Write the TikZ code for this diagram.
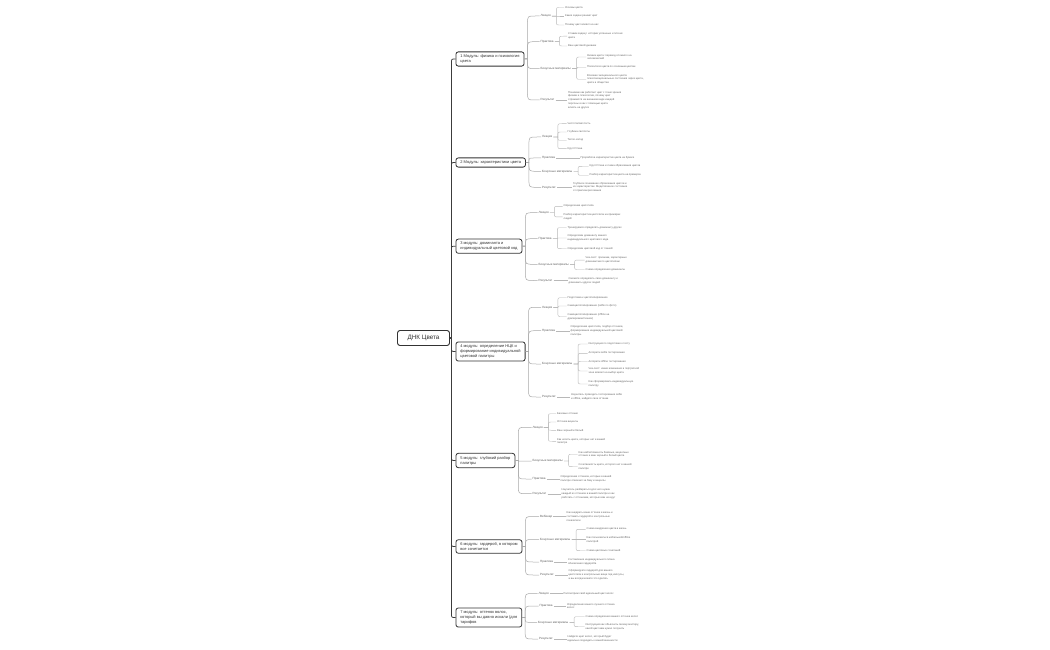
\documentclass[tikz,border=0pt]{standalone}
\usepackage{fontspec}
\setmainfont{Liberation Sans}
\usetikzlibrary{calc}
\definecolor{dark}{HTML}{333333}
\definecolor{catgray}{HTML}{5E5E5E}
\definecolor{leafgray}{HTML}{666666}
\definecolor{lineA}{HTML}{3C3C3C}
\definecolor{lineB}{HTML}{A8A8A8}
\definecolor{lineC}{HTML}{B8B8B8}
\tikzset{
  rootbox/.style={draw=dark, line width=0.9pt, rounded corners=2.5pt, font=\fontsize{6.3}{7.5}\selectfont, text=dark, minimum width=52pt, minimum height=15pt, inner sep=2pt},
  modbox/.style={draw=dark, line width=0.8pt, rounded corners=2.5pt, font=\fontsize{4}{5}\selectfont, text=dark, align=left, inner xsep=4.5pt, inner ysep=2.8pt, anchor=west},
  cat/.style={font=\fontsize{3}{3.6}\selectfont, text=catgray, inner sep=1pt, anchor=west},
  leaf/.style={font=\fontsize{2.65}{3.8}\selectfont, text=leafgray, align=left, inner sep=1pt, anchor=west},
  l1/.style={draw=lineA, line width=0.75pt},
  l2/.style={draw=lineB, line width=0.5pt},
  l3/.style={draw=lineC, line width=0.4pt},
  br/.style n args={2}{to path={let \p1=(\tikztostart), \p2=(\tikztotarget),
     \n1={((\y2)-(\y1))/max(abs((\y2)-(\y1)),0.001)},
     \n2={min(#2,abs((\y2)-(\y1)))} in
     -- (\x1+#1,\y1) -- (\x1+#1,{\y2-(\n1)*(\n2)*1pt}) .. controls (\x1+#1,\y2) .. ({\x1+#1+\n2*1pt},\y2) -- (\tikztotarget)}}
}
\begin{document}
\begin{tikzpicture}[x=1pt,y=-1pt]
\fill[white] (0,0) rectangle (1050,650);
\useasboundingbox (0,0) rectangle (1050,650);

\node[rootbox] (root) at (423.5,338) {ДНК Цвета};

% ---------- Module 1
\node[modbox] (m1) at (455.5,59) {1 Модуль: физика и психология\\цвета};
\node[cat] (m1a) at (539.5,16) {Лекция};
\node[leaf] (m1a1) at (564,7.5) {Основы цвета};
\node[leaf] (m1a2) at (564,16) {Какие задачи решает цвет};
\node[leaf] (m1a3) at (564,25) {Почему цвет влияет на нас};
\node[cat] (m1b) at (539.5,41.7) {Практика};
\node[leaf] (m1b1) at (567,36.2) {Ставим задачу: истории успешных и плохих\\цвета};
\node[leaf] (m1b2) at (567,46) {Ваш цветовой дневник};
\node[cat] (m1c) at (539.5,68.7) {Бонусные материалы};
\node[leaf] (m1c1) at (586,57) {Физика цвета: перевод сложного на\\человеческий};
\node[leaf] (m1c2) at (586,67.3) {Психология цвета по основным цветам};
\node[leaf] (m1c3) at (586,79.3) {Влияние эмоционального цвета:\\психоэмоциональные состояния через цвета,\\цвета в обществе};
\node[cat] (m1d) at (539.5,100) {Результат};
\node[leaf] (m1d1) at (567,100) {Понимаю как работает цвет с точки зрения\\физики и психологии, почему цвет\\отражается на внешнем виде каждой\\персоны и как с помощью цвета\\влиять на других};

% ---------- Module 2
\node[modbox] (m2) at (455.5,162.5) {2 Модуль: характеристики цвета};
\node[cat] (m2a) at (541,137) {Лекция};
\node[leaf] (m2a1) at (566.5,123.7) {Чистота/светлость};
\node[leaf] (m2a2) at (566.5,132) {Глубина светлоты};
\node[leaf] (m2a3) at (566.5,140.3) {Тепло-холод};
\node[leaf] (m2a4) at (566.5,148.7) {Круг Иттена};
\node[cat] (m2b) at (541,158) {Практика};
\node[leaf] (m2b1) at (579.5,158) {Проработка характеристик цвета на бумаге};
\node[cat] (m2c) at (541,171.3) {Бонусные материалы};
\node[leaf] (m2c1) at (588.5,166.3) {Круг Иттена и схема образования цветов};
\node[leaf] (m2c2) at (588.5,175.3) {Разбор характеристик цвета на примерах};
\node[cat] (m2d) at (541,187.3) {Результат};
\node[leaf] (m2d1) at (572,187.3) {Глубокое понимание образования цветов и\\их характеристик. Медитативное состояние\\от практики рисования};

% ---------- Module 3
\node[modbox] (m3) at (455.5,246.2) {3 модуль: доминанта и\\индивидуальный цветовой код};
\node[cat] (m3a) at (537.5,212.7) {Лекция};
\node[leaf] (m3a1) at (562.5,206.3) {Определение цветотипа};
\node[leaf] (m3a2) at (562.5,216.9) {Разбор характеристик цветотипа на примерах\\людей};
\node[cat] (m3b) at (537.5,238.7) {Практика};
\node[leaf] (m3b1) at (566.5,227.7) {Тренируемся определять доминанту других};
\node[leaf] (m3b2) at (566.5,238) {Определяем доминанту вашего\\индивидуального цветового кода};
\node[leaf] (m3b3) at (566.5,248.7) {Определяем цветовой код от тканей};
\node[cat] (m3c) at (537.5,264.3) {Бонусные материалы};
\node[leaf] (m3c1) at (584.5,260.1) {Чек-лист: признаки, характерные\\доминантам по цветотипам};
\node[leaf] (m3c2) at (584.5,269.5) {Схема определения доминанты};
\node[cat] (m3d) at (537.5,280.5) {Результат};
\node[leaf] (m3d1) at (567.5,280.5) {Сможете определить свою доминанту и\\доминанты других людей};

% ---------- Module 4
\node[modbox] (m4) at (455.5,351.5) {4 модуль: определение НЦК и\\формирование индивидуальной\\цветовой палитры};
\node[cat] (m4a) at (541,307.3) {Лекция};
\node[leaf] (m4a1) at (566.5,297.7) {Подготовка к цветотипированию};
\node[leaf] (m4a2) at (566.5,306) {Самоцветотипирование (selfie по фото)};
\node[leaf] (m4a3) at (566.5,316.5) {Самоцветотипирование (offline на\\драпировках/тканях)};
\node[cat] (m4b) at (541,330.7) {Практика};
\node[leaf] (m4b1) at (569.5,330.7) {Определение цветотипа, подбор оттенков,\\формирование индивидуальной цветовой\\палитры.};
\node[cat] (m4c) at (541,364) {Бонусные материалы};
\node[leaf] (m4c1) at (587.5,344) {Инструкция по подготовке к тесту};
\node[leaf] (m4c2) at (587.5,353.3) {Алгоритм selfie тестирования};
\node[leaf] (m4c3) at (587.5,361.5) {Алгоритм offline тестирования};
\node[leaf] (m4c4) at (587.5,371) {Чек-лист: какие изменения в портретной\\зоне влияют на выбор цвета};
\node[leaf] (m4c5) at (587.5,384) {Как сформировать индивидуальную\\палитру};
\node[cat] (m4d) at (541,397) {Результат};
\node[leaf] (m4d1) at (570,397) {Научитесь проводить тестирование selfie\\и offline, найдете свои оттенки};

% ---------- Module 5
\node[modbox] (m5) at (455.5,460.5) {5 модуль: глубокий разбор\\палитры};
\node[cat] (m5a) at (531.5,427.3) {Лекция};
\node[leaf] (m5a1) at (556,413.7) {Базовые оттенки};
\node[leaf] (m5a2) at (556,422) {Оттенки акценты};
\node[leaf] (m5a3) at (556,430.3) {Ваш черный и белый};
\node[leaf] (m5a4) at (556,441.3) {Как носить цвета, которых нет в вашей\\палитре};
\node[cat] (m5b) at (531.5,461) {Бонусные материалы};
\node[leaf] (m5b1) at (577.5,454.2) {Как найти/поменять базовые, акцентные\\оттенки и ваш черный и белый цвета};
\node[leaf] (m5b2) at (577.5,466.7) {Сочетаемость цвета, которого нет в вашей\\палитре};
\node[cat] (m5c) at (531.5,479) {Практика};
\node[leaf] (m5c1) at (559.5,479) {Определение оттенков, которые в вашей\\палитре отвечают за базу и акценты};
\node[cat] (m5d) at (531.5,493.7) {Результат};
\node[leaf] (m5d1) at (560.5,493.7) {Научитесь разбираться для чего нужен\\каждый из оттенков в вашей палитре и как\\работать с оттенками, которые вам не идут};

% ---------- Module 6
\node[modbox] (m6) at (455.5,546.5) {6 модуль: гардероб, в котором\\все сочетается};
\node[cat] (m6a) at (539,516.5) {Вебинар};
\node[leaf] (m6a1) at (565.5,516.5) {Как внедрить ваши оттенки в жизнь и\\составить гардероб и контрольные\\показатели};
\node[cat] (m6b) at (539,539.5) {Бонусные материалы};
\node[leaf] (m6b1) at (585.5,529.3) {Схема внедрения цвета в жизнь};
\node[leaf] (m6b2) at (585.5,539.5) {Как пользоваться мобильной/offline\\палитрой};
\node[leaf] (m6b3) at (585.5,550.7) {Схема цветовых сочетаний};
\node[cat] (m6c) at (539,562) {Практика};
\node[leaf] (m6c1) at (567,562) {Составление индивидуального плана\\обновления гардероба};
\node[cat] (m6d) at (539,575) {Результат};
\node[leaf] (m6d1) at (567.5,575) {Сформируете гардероб для вашего\\цветотипа и контрольные вещи под капсулы,\\а вы всегда можете это сделать};

% ---------- Module 7
\node[modbox] (m7) at (455.5,617.5) {7 модуль: оттенок волос,\\который вы давно искали (для\\тарифов};
\node[cat] (m7a) at (537.5,593.5) {Лекция};
\node[leaf] (m7a1) at (562.5,593.5) {Рассмотрим свой идеальный цвет волос};
\node[cat] (m7b) at (538.5,606) {Практика};
\node[leaf] (m7b1) at (566,606) {Определение вашего лучшего оттенка\\волос};
\node[cat] (m7c) at (537,622.3) {Бонусные материалы};
\node[leaf] (m7c1) at (584.5,616.7) {Схема определения вашего оттенка волос};
\node[leaf] (m7c2) at (584.5,626.7) {Инструкция как объяснить своему мастеру,\\какой цвет вам нужно получить};
\node[cat] (m7d) at (538,639) {Результат};
\node[leaf] (m7d1) at (566.5,639) {Найдете цвет волос, который будет\\идеально подходить к вашей внешности};

% ---------- connectors: root to modules
\foreach \m in {m1,m2,m3,m4,m5,m6,m7}
  \draw[l1] (root.east) to[br={1.5pt}{4pt}] (\m.west);

% ---------- modules to categories
\foreach \m/\cs in {m1/{m1a,m1b,m1c,m1d}, m2/{m2a,m2b,m2c,m2d}, m3/{m3a,m3b,m3c,m3d},
                    m4/{m4a,m4b,m4c,m4d}, m5/{m5a,m5b,m5c,m5d}, m6/{m6a,m6b,m6c,m6d},
                    m7/{m7a,m7b,m7c,m7d}}
  \foreach \c in \cs
    \draw[l2] (\m.east) to[br={3pt}{8pt}] (\c.west);

% ---------- categories to leaves (several)
\foreach \c/\ls in {m1a/{m1a1,m1a2,m1a3}, m1b/{m1b1,m1b2}, m1c/{m1c1,m1c2,m1c3},
                    m2a/{m2a1,m2a2,m2a3,m2a4}, m2c/{m2c1,m2c2},
                    m3a/{m3a1,m3a2}, m3b/{m3b1,m3b2,m3b3}, m3c/{m3c1,m3c2},
                    m4a/{m4a1,m4a2,m4a3}, m4c/{m4c1,m4c2,m4c3,m4c4,m4c5},
                    m5a/{m5a1,m5a2,m5a3,m5a4}, m5b/{m5b1,m5b2},
                    m6b/{m6b1,m6b3},
                    m7c/{m7c1,m7c2}}
  \foreach \l in \ls
    \draw[l3] (\c.east) to[br={4.5pt}{4pt}] (\l.west);

% ---------- categories to single (aligned) leaves
\foreach \c/\l in {m1d/m1d1, m2b/m2b1, m2d/m2d1, m3d/m3d1, m4b/m4b1, m4d/m4d1,
                   m5c/m5c1, m5d/m5d1, m6a/m6a1, m6b/m6b2, m6c/m6c1, m6d/m6d1,
                   m7a/m7a1, m7b/m7b1, m7d/m7d1}
  \draw[l3] (\c.east) -- (\l.west);
\end{tikzpicture}
\end{document}
